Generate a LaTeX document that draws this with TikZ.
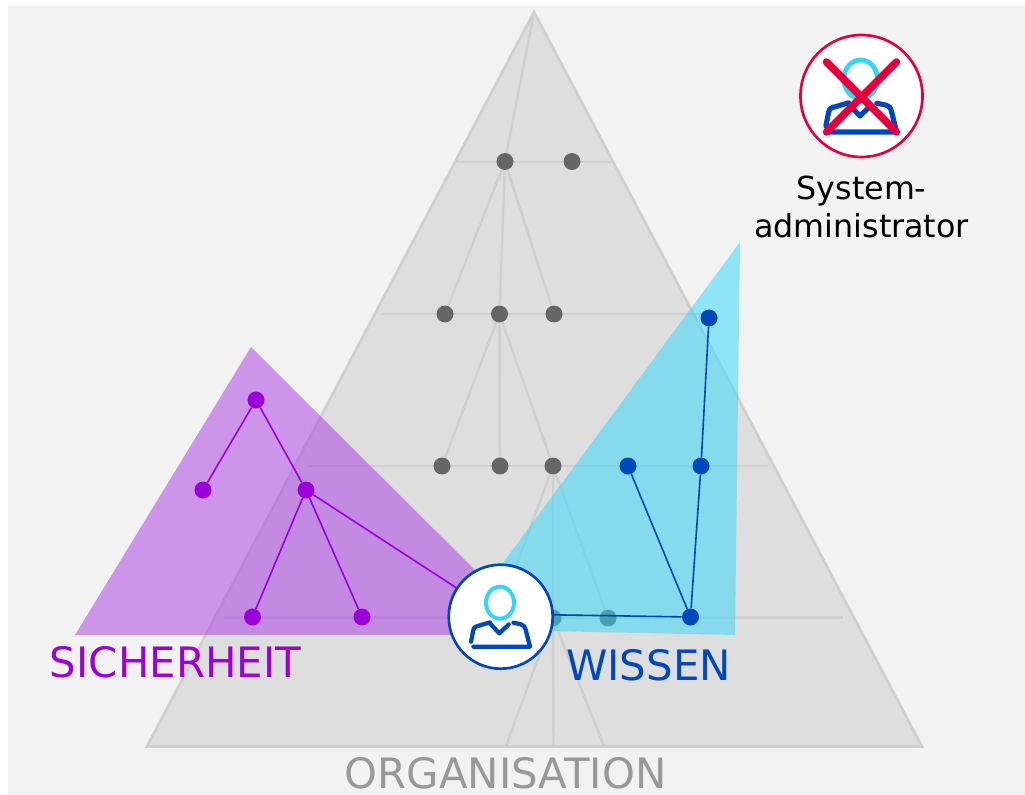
\documentclass[tikz,border=0pt]{standalone}
\usepackage{fontspec}
\setmainfont{DejaVu Sans}
\definecolor{bgc}{HTML}{F2F2F2}
\definecolor{trifill}{HTML}{DEDEDE}
\definecolor{triline}{HTML}{CFCFCF}
\definecolor{dotgray}{HTML}{666666}
\definecolor{purp}{HTML}{9B00DB}
\definecolor{purpfill}{HTML}{A83AE4}
\definecolor{blu}{HTML}{0047BB}
\definecolor{cyanfill}{HTML}{32D8FA}
\definecolor{cyanhead}{HTML}{33D6F5}
\definecolor{redx}{HTML}{E4003A}
\definecolor{orgtext}{HTML}{999999}
\tikzset{
  dotbase/.style={circle,inner sep=0pt,minimum size=12.75pt},
  graydot/.style={dotbase,fill=dotgray},
  bluedot/.style={dotbase,fill=blu},
  purpdot/.style={dotbase,fill=purp},
  trunk/.style={triline,line width=1.8pt},
  blueline/.style={blu,line width=1.2pt},
  purpline/.style={purp,line width=1.2pt},
  bigtext/.style={font=\fontsize{31.4}{37}\selectfont,inner sep=0pt},
  pics/person/.style={code={
    \draw[cyanhead,line width=#1*3pt] (-0.7,-14) ellipse [x radius=14,y radius=16];
    \draw[blu,line width=#1*3.2pt,line cap=round,line join=round]
      (-29.7,25) -- (-27.5,14) .. controls (-27,10.5) and (-25,9.5) .. (-22,9) -- (-10.7,5.7)
      (-10.7,6.7) -- (-1.3,16.7) -- (8,7.7)
      (12.7,6) -- (20,7.5) .. controls (23,8.5) and (24.5,10) .. (25,13) -- (29.3,30) -- (-27.3,30);
  }}
}
\begin{document}
\begin{tikzpicture}[x=0.75pt,y=-0.75pt]
\useasboundingbox (0,0) rectangle (1025,795);
\fill[white] (0,0) rectangle (1025,795);
\fill[bgc] (8,6) rectangle (1025,795);
\draw[fill=trifill,draw=triline,line width=2pt,line join=miter] (534,12) -- (922,746.5) -- (147,746.5) -- cycle;

% level guide lines
\coordinate (l1a) at (456,162); \coordinate (l1b) at (610,162);
\coordinate (l2a) at (382,314); \coordinate (l2b) at (706,314);
\coordinate (l3a) at (308,466); \coordinate (l3b) at (768,466);
\coordinate (l4a) at (224,617.5); \coordinate (l4b) at (843,617.5);
\draw[trunk] (l1a)--(l1b) (l2a)--(l2b) (l3a)--(l3b) (l4a)--(l4b);

% gray nodes
\coordinate (apex) at (534,12);
\coordinate (f1) at (506,746); \coordinate (f2) at (553.5,746); \coordinate (f3) at (604,746);
\coordinate (h1) at (497,618);
\node[graydot] (g11) at (505,161.5) {};
\node[graydot] (g12) at (572,161.5) {};
\node[graydot] (g21) at (445,314) {};
\node[graydot] (g22) at (499.5,314) {};
\node[graydot] (g23) at (554,314) {};
\node[graydot] (g31) at (442,466) {};
\node[graydot] (g32) at (500,466) {};
\node[graydot] (g33) at (553,466) {};
\node[graydot] (g41) at (553,618) {};
\node[graydot] (g42) at (608,618) {};
\draw[trunk] (apex)--(g11) (g11)--(g21) (g11)--(g22) (g11)--(g23)
  (g22)--(g31) (g22)--(g32) (g22)--(g33)
  (g33)--(h1) (g33)--(g41) (g33)--(g42)
  (g41)--(f1) (g41)--(f2) (g41)--(f3);

% translucent areas
\fill[purpfill,fill opacity=.5] (251,347) -- (75,635) -- (500,635) -- (500,595) -- cycle;
\fill[cyanfill,fill opacity=.5] (740,242) -- (735,635) -- (500,630) -- (500,567) -- cycle;

% user
\node[circle,draw=blu,fill=white,line width=2pt,minimum size=78pt,inner sep=0pt] (user) at (500.7,616.7) {};

% purple tree
\node[purpdot] (p1) at (256,400) {};
\node[purpdot] (p2) at (203,490) {};
\node[purpdot] (p3) at (306,490) {};
\node[purpdot] (p4) at (252.5,617) {};
\node[purpdot] (p5) at (362,617) {};
\draw[purpline] (p1)--(p2) (p1)--(p3) (p3)--(p4) (p3)--(p5) (p3)--(user);

% blue tree
\node[bluedot] (b1) at (709,318) {};
\node[bluedot] (b2) at (628,466) {};
\node[bluedot] (b3) at (701,466) {};
\node[bluedot] (b4) at (690.5,617) {};
\draw[blueline] (b1)--(b3) (b3)--(b4) (b2)--(b4) (b4)--(user.2);

\pic at (user.center) {person={1}};

% excluded administrator
\node[circle,draw=redx,fill=white,line width=2pt,minimum size=91.5pt,inner sep=0pt] (admin) at (861.5,96) {};
\pic[scale=1.2] at (admin.center) {person={1.2}};
\coordinate (x1) at (826.5,62); \coordinate (x2) at (896.5,62);
\coordinate (x3) at (826.5,132); \coordinate (x4) at (896.5,132);
\draw[redx,line width=5.6pt,line cap=round] (x1)--(x4) (x2)--(x3);

% labels
\node[font=\fontsize{23.8}{28.5}\selectfont,align=center,inner sep=0pt] (admintext) at (861.5,207) {System-\\administrator};
\node[bigtext,text=purp] (sich) at (175.5,662) {SICHERHEIT};
\node[bigtext,text=blu] (wiss) at (648.5,665) {WISSEN};
\node[bigtext,text=orgtext] (org) at (505.5,773) {ORGANISATION};
\end{tikzpicture}
\end{document}
